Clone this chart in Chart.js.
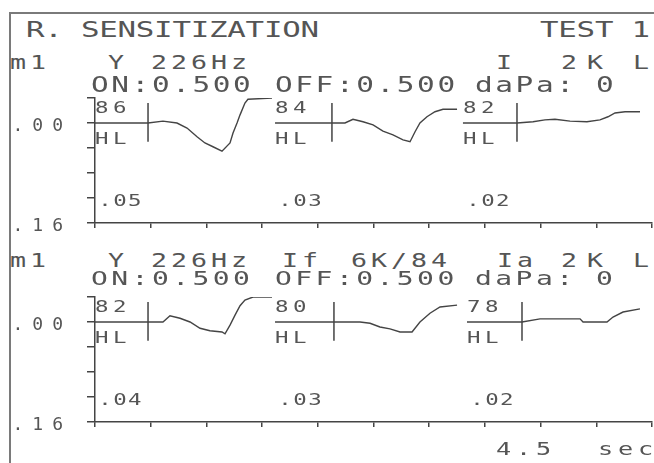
<!DOCTYPE html>
<html>
<head>
<meta charset="utf-8">
<script src="https://cdn.jsdelivr.net/npm/chart.js@4.4.0/dist/chart.umd.min.js"></script>
<style>
html, body { margin: 0; padding: 0; background: #fff; }
#page { position: relative; width: 654px; height: 463px; overflow: hidden; background: #fff;
        font-family: "DejaVu Sans Mono", monospace; color: #555; }
.frameL { position: absolute; left: 9px; top: 12px; width: 2px; height: 460px; background: #7a7a7a; z-index: 3; }
.frameT { position: absolute; left: 9px; top: 12px; width: 660px; height: 2px; background: #7a7a7a; z-index: 3; }
.txt { position: absolute; white-space: pre; line-height: 1; transform-origin: 0 0; z-index: 2; }
canvas { position: absolute; left: 0; z-index: 1; }
</style>
</head>
<body>
<div id="page">
  <div class="frameL"></div>
  <div class="frameT"></div>
  <canvas id="topPanel" width="654" height="150" style="top:90px"></canvas>
  <canvas id="bottomPanel" width="654" height="150" style="top:289px"></canvas>
</div>
<script>
// x axis: seconds, ticks every 0.5
const xMin = 0, xMax = 5, xStep = 0.5;
// y axis: ml, drawn downward
const yTickValues = [-0.04, 0, 0.04, 0.08, 0.12, 0.16];
const yTickText = ['', '.00', '', '', '', '.16'];

// header texts
const title = ['R. SENSITIZATION', 'TEST 1'];
const topHeadA = ['m1', 'Y', '226Hz', 'I', '2K', 'L'];
const bottomHeadA = ['m1', 'Y', '226Hz', 'If', '6K/84', 'Ia', '2K', 'L'];
const headB = ['ON:0.500', 'OFF:0.500', 'daPa:', '0'];
const timeLabel = ['4.5', 'sec'];

// segment labels (stimulus level, HL, amplitude)
const topLevels = ['86', '84', '82'];
const bottomLevels = ['82', '80', '78'];
const topAmps = ['.05', '.03', '.02'];
const bottomAmps = ['.04', '.03', '.02'];

// segment start times and stimulus onset marks (sec)
const topStarts = [0, 1.616, 3.303];
const bottomStarts = [0, 1.616, 3.339];
const topStim = [0.476, 2.127, 3.788];
const bottomStim = [0.476, 2.145, 3.833];
const stimSpan = [-0.032, 0.03];

// reflex traces [sec, ml]
const top1 = [[0,0],[0.476,0],[0.61,-0.003],[0.736,0],[0.826,0.008],[0.916,0.022],[0.987,0.032],[1.059,0.038],[1.14,0.045],[1.212,0.032],[1.239,0.016],[1.275,0],[1.302,-0.013],[1.346,-0.032],[1.373,-0.038],[1.589,-0.04]];
const top2 = [[1.616,0],[2.127,0],[2.244,0],[2.316,-0.006],[2.406,-0.002],[2.496,0.003],[2.585,0.013],[2.675,0.019],[2.765,0.027],[2.828,0.03],[2.873,0.014],[2.917,0],[2.98,-0.01],[3.052,-0.018],[3.124,-0.022],[3.25,-0.022]];
const top3 = [[3.303,0],[3.788,0],[3.932,-0.002],[4.039,-0.005],[4.129,-0.006],[4.264,-0.003],[4.416,-0.002],[4.533,-0.005],[4.605,-0.01],[4.668,-0.016],[4.758,-0.018],[4.892,-0.018]];
const bot1 = [[0,0],[0.476,0],[0.61,0],[0.673,-0.01],[0.763,-0.006],[0.853,0],[0.943,0.01],[1.032,0.014],[1.14,0.016],[1.167,0.019],[1.212,0.005],[1.257,-0.011],[1.302,-0.026],[1.346,-0.035],[1.418,-0.04],[1.589,-0.04]];
const bot2 = [[1.616,0],[2.145,0],[2.379,0],[2.469,0.002],[2.558,0.008],[2.648,0.011],[2.738,0.016],[2.846,0.016],[2.917,0],[3.007,-0.014],[3.097,-0.024],[3.25,-0.027]];
const bot3 = [[3.339,0],[3.833,0],[3.995,-0.005],[4.354,-0.005],[4.381,0],[4.596,0],[4.65,-0.008],[4.74,-0.016],[4.892,-0.021]];

const INK = '#444';
const FONT = '"DejaVu Sans Mono", monospace';

// header text: x = cell left, capTop = top of capitals, pitch = char advance
function put(text, x, capTop, size, pitch) {
  const sx = 1.4;
  const el = document.createElement('div');
  el.className = 'txt';
  el.textContent = text;
  el.style.fontSize = size + 'px';
  el.style.left = x + 'px';
  el.style.top = (capTop - 0.117 * size) + 'px';
  el.style.letterSpacing = (pitch / sx - 0.602 * size) + 'px';
  el.style.transform = 'scaleX(' + sx + ')';
  document.getElementById('page').appendChild(el);
}

put(title[0], 26, 22, 22, 18.3);
put(title[1], 540, 22, 22, 18.3);

const headAX = { 'm1': 10, 'Y': 108, '226Hz': 151, 'I': 496, 'If': 282, '6K/84': 351, 'Ia': 497, '2K': 561, 'L': 633 };
topHeadA.forEach(t => put(t, headAX[t], 55, 19, t === '2K' ? 26 : 20));
bottomHeadA.forEach(t => put(t, headAX[t], 253, 19, t === '2K' ? 26 : 20));
const headBX = [91, 275, 475, 596];
headB.forEach((t, i) => put(t, headBX[i], 77, 21, 20.3));
headB.forEach((t, i) => put(t, headBX[i], 270, 20, 20.3));
put(timeLabel[0], 496, 442, 18, 20);
put(timeLabel[1], 598, 442, 18, 20);

// labels inside each panel, placed through the chart scales
const segLabels = {
  id: 'segLabels',
  beforeDraw(chart) {
    chart.ctx.letterSpacing = '9px';
  },
  afterDatasetsDraw(chart, args, opts) {
    const { ctx, scales: { x, y } } = chart;
    const txt = (s, xv, yv, ls) => {
      ctx.save();
      ctx.translate(x.getPixelForValue(xv), y.getPixelForValue(yv));
      ctx.scale(1.4, 1);
      ctx.font = '16px ' + FONT;
      ctx.letterSpacing = ls + 'px';
      ctx.fillStyle = '#555';
      ctx.textBaseline = 'middle';
      ctx.fillText(s, 0, 0);
      ctx.restore();
    };
    opts.starts.forEach((s, i) => {
      txt(opts.levels[i], s, -0.0224, 3.2);
      txt('HL', s, 0.0272, 3.2);
      txt(opts.amps[i], s + 0.03, 0.1256, 1.0);
    });
  }
};

function makePanel(id, curves, stim, starts, levels, amps) {
  const datasets = curves.map(c => ({
    data: c.map(p => ({ x: p[0], y: p[1] })),
    borderColor: INK, borderWidth: 1.4, pointRadius: 0, showLine: true, tension: 0
  }));
  stim.forEach(t => datasets.push({
    data: stimSpan.map(v => ({ x: t, y: v })),
    borderColor: INK, borderWidth: 1.5, pointRadius: 0, showLine: true
  }));
  return new Chart(document.getElementById(id), {
    type: 'scatter',
    data: { datasets },
    plugins: [segLabels],
    options: {
      responsive: false,
      animation: false,
      layout: { padding: { left: 0, right: 2, top: 8, bottom: 0 } },
      plugins: {
        legend: { display: false },
        tooltip: { enabled: false },
        segLabels: { starts, levels, amps }
      },
      scales: {
        x: {
          type: 'linear', min: xMin, max: xMax,
          ticks: { display: false, stepSize: xStep },
          grid: { drawOnChartArea: false, drawTicks: true, tickLength: 5, color: INK, lineWidth: 1.5 },
          border: { color: INK, width: 1.5 },
          afterFit: s => { s.height = 17; s.paddingLeft = 0; s.paddingRight = 0; }
        },
        y: {
          type: 'linear', min: -0.04, max: 0.16, reverse: true,
          afterBuildTicks: s => { s.ticks = yTickValues.map(v => ({ value: v })); },
          ticks: {
            autoSkip: false, padding: 15, labelOffset: 3, color: '#555',
            font: { family: FONT, size: 18 },
            callback: (v, i) => yTickText[i]
          },
          grid: { drawOnChartArea: false, drawTicks: true, tickLength: 8, color: INK, lineWidth: 1.5 },
          border: { color: INK, width: 1.5 },
          afterFit: s => { s.width = 95; s.paddingTop = 0; s.paddingBottom = 0; }
        }
      }
    }
  });
}

makePanel('topPanel', [top1, top2, top3], topStim, topStarts, topLevels, topAmps);
makePanel('bottomPanel', [bot1, bot2, bot3], bottomStim, bottomStarts, bottomLevels, bottomAmps);
</script>
</body>
</html>
